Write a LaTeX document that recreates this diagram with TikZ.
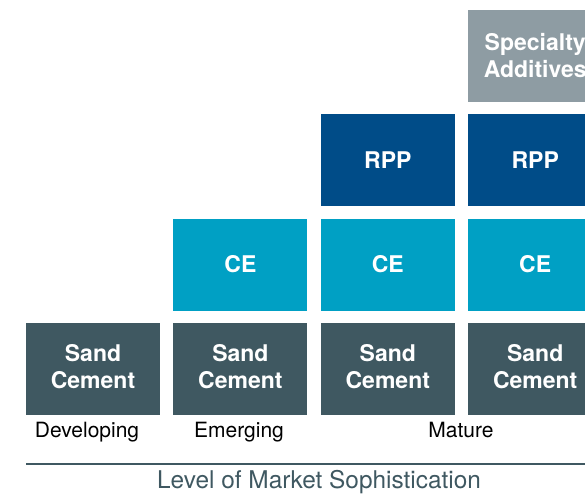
\documentclass[tikz,border=0pt]{standalone}
\usepackage{fontspec}
\setmainfont{TeX Gyre Heros}
\usetikzlibrary{positioning}
\definecolor{slategrey}{HTML}{3F5861}
\definecolor{cecyan}{HTML}{00A0C4}
\definecolor{rppblue}{HTML}{004C88}
\definecolor{additivegrey}{HTML}{8E9CA3}
\tikzstyle{block} = [rectangle, minimum width=134pt, minimum height=92pt, inner sep=0pt, text centered, align=center, text=white, font=\fontsize{23}{27}\selectfont\bfseries]
\tikzstyle{sand} = [block, fill=slategrey, text depth=6pt]
\tikzstyle{ce} = [block, fill=cecyan]
\tikzstyle{rpp} = [block, fill=rppblue]
\tikzstyle{special} = [block, fill=additivegrey]
\tikzstyle{stage} = [anchor=base, font=\fontsize{21}{25}\selectfont]

\begin{document}
\begin{tikzpicture}[x=1pt, y=-1pt, node distance=13pt]
\clip (0,0) rectangle (585,493);

% Base layer
\node (sand1) [sand] at (93,369) {Sand\\Cement};
\node (sand2) [sand, right=of sand1] {Sand\\Cement};
\node (sand3) [sand, right=of sand2] {Sand\\Cement};
\node (sand4) [sand, right=of sand3] {Sand\\Cement};

% CE layer
\node (ce2) [ce, above=12pt of sand2] {CE};
\node (ce3) [ce, above=12pt of sand3] {CE};
\node (ce4) [ce, above=12pt of sand4] {CE};

% RPP layer
\node (rpp3) [rpp, above=12pt of ce3] {RPP};
\node (rpp4) [rpp, above=12pt of ce4] {RPP};

% Top layer
\node (additives) [special, above=12pt of rpp4] {Specialty\\Additives};

% Stage labels
\node (developing) [stage] at (87,437) {Developing};
\node (emerging) [stage] at (239,437) {Emerging};
\node (mature) [stage] at (461,437) {Mature};

% Axis
\coordinate (axisstart) at (26,464);
\coordinate (axisend) at (585,464);
\draw [slategrey, line width=2pt] (axisstart) -- (axisend);
\node (axislabel) [anchor=base, text=slategrey, font=\fontsize{24.4}{28}\selectfont] at (319,488) {Level of Market Sophistication};

\end{tikzpicture}
\end{document}
